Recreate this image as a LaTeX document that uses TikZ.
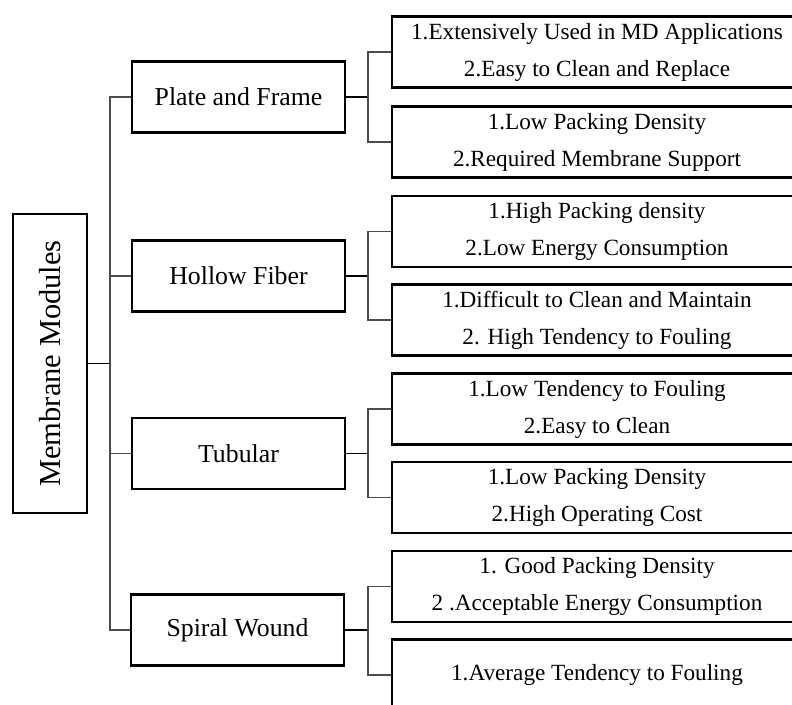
\documentclass[tikz,border=0pt]{standalone}
\usepackage{fontspec}
\setmainfont{Liberation Serif}
\begin{document}
\begin{tikzpicture}[x=1pt,y=-1pt,
  box/.style={draw=black, line width=2.5pt, inner sep=0pt, align=center},
  rootbox/.style={box, rotate=90, minimum width=299pt, minimum height=74pt,
    font=\fontsize{30.5}{34}\selectfont},
  midbox/.style={box, minimum width=213pt, minimum height=71pt,
    font=\fontsize{25.8}{30}\selectfont},
  subbox/.style={box, minimum width=410pt, minimum height=71pt,
    font=\fontsize{23.2}{37}\selectfont},
  link/.style={draw=black!70, line width=1.3pt},
  stub/.style={draw=black, line width=1.8pt}]
\useasboundingbox (0,0) rectangle (792,704);

% root
\node[rootbox] (root) at (50,363.5) {Membrane Modules};

% module types
\node[midbox] (pf) at (238.5,97)   {Plate and Frame};
\node[midbox] (hf) at (238.5,276)  {Hollow Fiber};
\node[midbox] (tb) at (238.5,453.5) {Tubular};
\node[midbox] (sw) at (237.5,630)  {Spiral Wound};

% properties
\node[subbox] (pf1) at (597,52)    {1.Extensively Used in MD Applications\\2.Easy to Clean and Replace};
\node[subbox] (pf2) at (597,142)   {1.Low Packing Density\\2.Required Membrane Support};
\node[subbox] (hf1) at (597,231.5) {1.High Packing density\\2.Low Energy Consumption};
\node[subbox] (hf2) at (597,320)   {1.Difficult to Clean and Maintain\\2. High Tendency to Fouling};
\node[subbox] (tb1) at (597,409)   {1.Low Tendency to Fouling\\2.Easy to Clean};
\node[subbox] (tb2) at (597,497.5) {1.Low Packing Density\\2.High Operating Cost};
\node[subbox] (sw1) at (597,586.5) {1. Good Packing Density\\2 .Acceptable Energy Consumption};
\node[subbox] (sw2) at (597,675)   {1.Average Tendency to Fouling};

% main trunk
\coordinate (trunk) at (110,0);
\draw[stub] (root.south) -- (root.south -| trunk);
\draw[link] (pf.west) -- (pf.west -| trunk) -- (sw.west -| trunk) -- (sw.west);
\draw[link] (hf.west) -- (hf.west -| trunk);
\draw[link] (tb.west) -- (tb.west -| trunk);

% branches to properties
\coordinate (split) at (368,0);
\foreach \m/\a/\b in {pf/pf1/pf2, hf/hf1/hf2, tb/tb1/tb2, sw/sw1/sw2}{
  \draw[stub] (\m.east) -- (\m.east -| split);
  \draw[link] (\a.west) -- (\a.west -| split) -- (\b.west -| split) -- (\b.west);
}
\end{tikzpicture}
\end{document}
